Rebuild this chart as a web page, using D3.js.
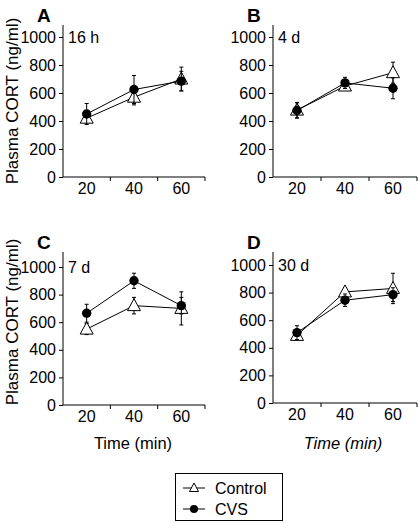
<!DOCTYPE html>
<html><head><meta charset="utf-8">
<script src="https://cdn.jsdelivr.net/npm/d3@7"></script>
<style>body{margin:0;background:#fff}svg{display:block;font-family:Arial,"Liberation Sans",sans-serif}</style>
</head><body><svg id="c" width="419" height="523"></svg>
<script>
const times = ["20","40","60"];
const panelLetters = ["A","B","C","D"];
const panelLabels = ["16 h","4 d","7 d","30 d"];
const controlMean = [[420,570,700],[478,650,745],[550,720,700],[490,805,830]];
const controlErr  = [[20,55,85],[55,30,75],[40,60,120],[20,30,110]];
const cvsMean = [[450,625,685],[475,672,634],[665,900,720],[510,745,785]];
const cvsErr  = [[75,100,70],[55,40,75],[65,55,60],[50,45,50]];
const yTicks = [0,200,400,600,800,1000];
const legendLabels = ["Control","CVS"];

const FF = "Arial,'Liberation Sans',sans-serif";
const layout = [
  {l:63,r:205,y0:177,y1:37,top:25},
  {l:273,r:417,y0:177,y1:37,top:25},
  {l:63,r:205,y0:405,y1:267,top:252},
  {l:273,r:417,y0:403,y1:265,top:252}
];
const svg = d3.select("#c");
layout.forEach((L,i)=>{
  const g = svg.append("g");
  const x = d3.scaleBand().domain(times).range([L.l,L.r]);
  const y = d3.scaleLinear().domain([0,1000]).range([L.y0,L.y1]);
  // y axis
  const ya = g.append("g").attr("transform",`translate(${L.l},0)`)
    .call(d3.axisLeft(y).tickValues(yTicks).tickFormat(d3.format("d")).tickSize(4).tickPadding(3).tickSizeOuter(0));
  ya.select(".domain").attr("d",`M0,${L.y0}V${L.top}`);
  ya.selectAll("text").attr("font-size",16).attr("font-family",FF);
  // x axis
  const xa = g.append("g").attr("transform",`translate(0,${L.y0})`)
    .call(d3.axisBottom(x).tickSize(0).tickPadding(6).tickSizeOuter(0));
  xa.select(".domain").attr("d",`M${L.l},0H${L.r}`);
  xa.selectAll("text").attr("font-size",16).attr("font-family",FF);
  const edges = times.map(t=>x(t)+x.bandwidth());
  xa.selectAll(".edge").data(edges).enter().append("line").attr("class","edge")
    .attr("x1",d=>d).attr("x2",d=>d).attr("y1",0).attr("y2",4).attr("stroke","#000");
  // letter
  g.append("text").attr("x",L.l-26).attr("y",L.top-3).attr("font-size",19).attr("font-weight","bold").text(panelLetters[i]);
  g.append("text").attr("x",L.l+5).attr("y",y(1000)+6).attr("font-size",16).text(panelLabels[i]);
  const cx = t=>x(t)+x.bandwidth()/2;
  const line = d3.line().x((d,j)=>cx(times[j])).y(d=>y(d));
  function series(mean, err, kind){
    const s = g.append("g");
    mean.forEach((m,j)=>{
      const X = cx(times[j]);
      s.append("line").attr("x1",X).attr("x2",X).attr("y1",y(m-err[j])).attr("y2",y(m+err[j])).attr("stroke","#000");
      [m-err[j],m+err[j]].forEach(v=>s.append("line").attr("x1",X-2).attr("x2",X+2).attr("y1",y(v)).attr("y2",y(v)).attr("stroke","#000"));
    });
    s.append("path").attr("d",line(mean)).attr("fill","none").attr("stroke","#000").attr("stroke-width",1);
    mean.forEach((m,j)=>{
      const X = cx(times[j]), Y=y(m);
      if(kind==="tri") s.append("path").attr("d",`M${X},${Y-7}L${X+6.5},${Y+5}L${X-6.5},${Y+5}Z`).attr("fill","#fff").attr("stroke","#000");
      else s.append("circle").attr("cx",X).attr("cy",Y).attr("r",4.7).attr("fill","#000");
    });
  }
  series(controlMean[i],controlErr[i],"tri");
  series(cvsMean[i],cvsErr[i],"dot");
});
// axis titles
[101,322].forEach(cy=>svg.append("text").attr("transform",`translate(18,${cy}) rotate(-90)`).attr("text-anchor","middle").attr("font-size",17).text("Plasma CORT (ng/ml)"));
svg.append("text").attr("x",133).attr("y",449).attr("text-anchor","middle").attr("font-size",16.5).text("Time (min)");
svg.append("text").attr("x",343).attr("y",449).attr("text-anchor","middle").attr("font-size",16.5).attr("font-style","italic").text("Time (min)");
// legend
const lg = svg.append("g");
lg.append("rect").attr("x",175.5).attr("y",473.5).attr("width",107).attr("height",47).attr("fill","#fff").attr("stroke","#000");
legendLabels.forEach((t,k)=>{
  const yy = 488 + k*21;
  lg.append("line").attr("x1",183).attr("x2",205).attr("y1",yy).attr("y2",yy).attr("stroke","#000");
  if(k===0) lg.append("path").attr("d",`M194,${yy-5}L198.5,${yy+3.5}L189.5,${yy+3.5}Z`).attr("fill","#fff").attr("stroke","#000");
  else lg.append("circle").attr("cx",194).attr("cy",yy).attr("r",4).attr("fill","#000");
  lg.append("text").attr("x",215).attr("y",yy+5.5).attr("font-size",16).text(t);
});
</script></body></html>
